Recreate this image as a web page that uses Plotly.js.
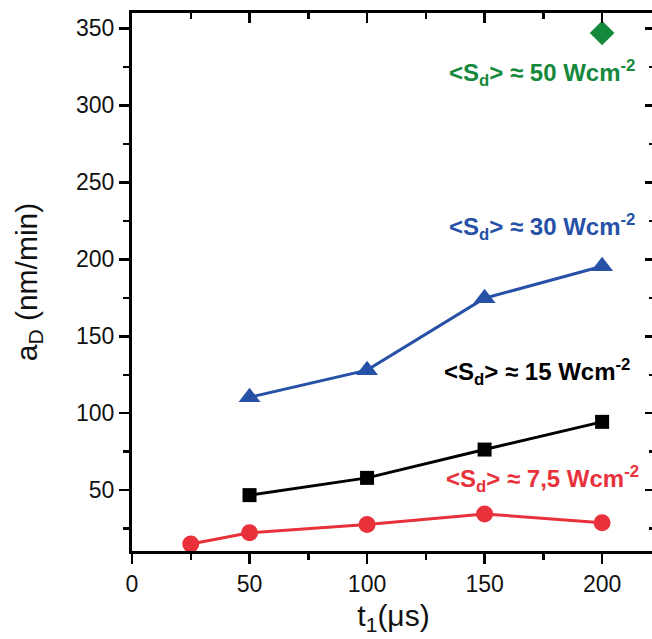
<!DOCTYPE html>
<html><head><meta charset="utf-8">
<script src="https://cdn.plot.ly/plotly-3.0.1.min.js"></script>
<style>html,body{margin:0;padding:0;overflow:hidden;background:#fff}</style>
</head><body>
<div id="chart" style="width:660px;height:639px"></div>
<script>
// Data
const t1_red = [25, 50, 100, 150, 200];
const aD_red = [15, 22.3, 27.7, 34.6, 28.8];
const t1_black = [50, 100, 150, 200];
const aD_black = [46.8, 58, 76.4, 94.4];
const t1_blue = [50, 100, 150, 200];
const aD_blue = [110.4, 128, 174.7, 195.5];
const t1_green = [200];
const aD_green = [347];

const labels = [
  {text: '&lt;S<sub>d</sub>&gt; ≈ 50 Wcm<sup>-2</sup>', x: 174.5, y: 321, color: '#14893b'},
  {text: '&lt;S<sub>d</sub>&gt; ≈ 30 Wcm<sup>-2</sup>', x: 174.5, y: 221, color: '#2651a6'},
  {text: '&lt;S<sub>d</sub>&gt; ≈ 15 Wcm<sup>-2</sup>', x: 172.5, y: 127, color: '#000000'},
  {text: '&lt;S<sub>d</sub>&gt; ≈ 7,5 Wcm<sup>-2</sup>', x: 174.5, y: 57, color: '#e8313a'}
];

const traces = [
  {x: t1_red, y: aD_red, mode: 'lines+markers', line: {color: '#e8313a', width: 3},
   marker: {symbol: 'circle', size: 17, color: '#e8313a'}},
  {x: t1_black, y: aD_black, mode: 'lines+markers', line: {color: '#000000', width: 3},
   marker: {symbol: 'square', size: 14, color: '#000000'}},
  {x: t1_blue, y: aD_blue, mode: 'lines+markers', line: {color: '#2651a6', width: 3},
   marker: {symbol: 'triangle-up', size: 19, color: '#2651a6'}},
  {x: t1_green, y: aD_green, mode: 'markers',
   marker: {symbol: 'diamond', size: 19, color: '#14893b'}},
  {x: [], y: [], xaxis: 'x2', yaxis: 'y2', showlegend: false, hoverinfo: 'skip'}
];

const axFont = {family: 'Liberation Sans, Arial, sans-serif', size: 23, color: '#111'};
const titleFont = {family: 'Liberation Sans, Arial, sans-serif', size: 30, color: '#111'};
const layout = {
  width: 660, height: 639,
  margin: {l: 132, r: 5, t: 13, b: 88},
  paper_bgcolor: '#fff', plot_bgcolor: '#fff',
  showlegend: false,
  xaxis: {
    range: [0, 222.5], tickvals: [0, 50, 100, 150, 200], ticks: 'outside', ticklen: 10, tickwidth: 2.5,
    tickcolor: '#000', showline: true, linecolor: '#000', linewidth: 3, showgrid: false, zeroline: false,
    minor: {tickvals: [25, 75, 125, 175], ticks: 'outside', ticklen: 6, tickwidth: 2.5, tickcolor: '#000', showgrid: false},
    tickfont: axFont,
    title: {text: 't<sub>1</sub>(μs)', font: titleFont, standoff: 10}
  },
  yaxis: {
    range: [10.5, 360], tickvals: [50, 100, 150, 200, 250, 300, 350], ticks: 'outside', ticklen: 10, tickwidth: 2.5,
    tickcolor: '#000', showline: true, linecolor: '#000', linewidth: 3, showgrid: false, zeroline: false,
    minor: {tickvals: [25, 75, 125, 175, 225, 275, 325], ticks: 'outside', ticklen: 6, tickwidth: 2.5, tickcolor: '#000', showgrid: false},
    tickfont: axFont,
    title: {text: 'a<sub>D</sub> (nm/min)', font: titleFont, standoff: 30}
  },
  xaxis2: {
    overlaying: 'x', matches: 'x', side: 'top', anchor: 'y2', range: [0, 222.5],
    tickvals: [0, 50, 100, 150, 200], ticks: 'inside', ticklen: 10, tickwidth: 2.5, tickcolor: '#000',
    minor: {tickvals: [25, 75, 125, 175], ticks: 'inside', ticklen: 6, tickwidth: 2.5, tickcolor: '#000', showgrid: false},
    showticklabels: false, showline: true, linecolor: '#000', linewidth: 3, showgrid: false, zeroline: false
  },
  yaxis2: {
    overlaying: 'y', matches: 'y', side: 'right', anchor: 'x2', range: [10.5, 360],
    tickvals: [50, 100, 150, 200, 250, 300, 350], ticks: 'inside', ticklen: 10, tickwidth: 2.5, tickcolor: '#000',
    minor: {tickvals: [25, 75, 125, 175, 225, 275, 325], ticks: 'inside', ticklen: 6, tickwidth: 2.5, tickcolor: '#000', showgrid: false},
    showticklabels: false, showline: true, linecolor: '#000', linewidth: 3, showgrid: false, zeroline: false
  },
  annotations: labels.map(l => ({
    text: '<b>' + l.text + '</b>', x: l.x, y: l.y, xref: 'x', yref: 'y', showarrow: false,
    font: {family: 'Liberation Sans, Arial, sans-serif', size: 24, color: l.color}
  }))
};

Plotly.newPlot('chart', traces, layout, {displayModeBar: false, staticPlot: true});
</script>
</body></html>
